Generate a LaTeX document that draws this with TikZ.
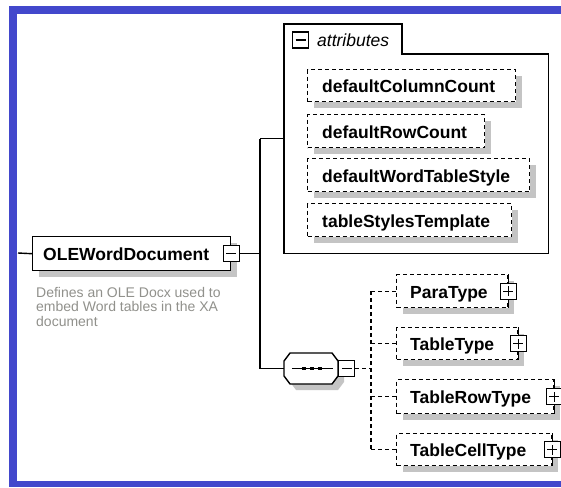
\documentclass[tikz,border=0pt]{standalone}
\usepackage{fontspec}
\setmainfont{Liberation Sans}
\usetikzlibrary{shadows}
\definecolor{frameblue}{RGB}{66,72,204}
\definecolor{shadowgray}{RGB}{196,196,196}
\definecolor{descgray}{RGB}{145,145,140}
\tikzset{
  conn/.style={line width=1.4pt},
  dconn/.style={line width=1.4pt, dash pattern=on 4pt off 3pt},
  box/.style={draw, line width=1.4pt, fill=white, inner sep=0pt, anchor=north west},
  dbox/.style={box, dash pattern=on 4pt off 3pt},
  shad/.style={drop shadow={shadow xshift=6pt, shadow yshift=-6pt, fill=shadowgray, opacity=1}},
  lbl/.style={font=\fontsize{17.5}{20}\selectfont\bfseries, anchor=base west, inner sep=0pt},
  pm/.style={draw, fill=white, line width=1.2pt, minimum size=16pt, inner sep=0pt, solid},
  pmminus/.style={pm, path picture={\draw[line width=1.1pt] ([xshift=-5pt]path picture bounding box.center) -- ([xshift=5pt]path picture bounding box.center);}},
  pmplus/.style={pm, path picture={\draw[line width=1.1pt] ([xshift=-5pt]path picture bounding box.center) -- ([xshift=5pt]path picture bounding box.center) ([yshift=-5pt]path picture bounding box.center) -- ([yshift=5pt]path picture bounding box.center);}},
  seqdot/.style={fill=black, inner sep=0pt, minimum size=3.8pt},
}
\begin{document}
\begin{tikzpicture}[x=1pt,y=-1pt]
\useasboundingbox (0,0) rectangle (561,487);
% frame
\fill[frameblue] (9,6) rectangle (561,487);
\fill[white] (17,14) rectangle (561,481);

% attributes group
\node[inner sep=0pt, minimum width=264pt, minimum height=229pt, anchor=north west] (attrs) at (284,24) {};
\draw[line width=1.4pt] (attrs.north west) -- ([xshift=118pt]attrs.north west) -- ([xshift=118pt,yshift=-30pt]attrs.north west) -- ([yshift=-30pt]attrs.north east) -- (attrs.south east) -- (attrs.south west) -- cycle;
\node[pmminus] (attrsm) at (300.5,40) {};
\node[font=\fontsize{17.5}{20}\selectfont\itshape, anchor=base west, inner sep=0pt] (attrslbl) at (317,47) {attributes};

\node[dbox, shad, minimum width=208pt, minimum height=32pt] (dcc) at (307,69) {};
\node[lbl] at ([xshift=15pt,yshift=-7pt]dcc.west) {defaultColumnCount};
\node[dbox, shad, minimum width=177pt, minimum height=33pt] (drc) at (307,114) {};
\node[lbl] at ([xshift=15pt,yshift=-7pt]drc.west) {defaultRowCount};
\node[dbox, shad, minimum width=222pt, minimum height=33pt] (dwts) at (307,158) {};
\node[lbl] at ([xshift=15pt,yshift=-7pt]dwts.west) {defaultWordTableStyle};
\node[dbox, shad, minimum width=204pt, minimum height=33pt] (tst) at (307,203) {};
\node[lbl] at ([xshift=15pt,yshift=-7pt]tst.west) {tableStylesTemplate};

% root element
\node[box, shad, minimum width=198pt, minimum height=34pt] (ole) at (32,236) {};
\node[lbl] at ([xshift=11pt,yshift=-7pt]ole.west) {OLEWordDocument};
\node[pmminus] (olem) at (ole.east) {};
\node[font=\fontsize{14}{14.5}\selectfont, text=descgray, align=left, anchor=north west, inner sep=0pt] (desc) at (36,286.8) {Defines an OLE Docx used to\\embed Word tables in the XA\\document};

% sequence compositor
\node[inner sep=0pt, minimum width=54pt, minimum height=31pt] (seq) at (311,368.5) {};
\path[draw, fill=white, shad, line width=1.4pt] (290,353) -- (332,353) -- (338,361) -- (338,376) -- (332,384) -- (290,384) -- (284,376) -- (284,361) -- cycle;
\draw[line width=1.4pt] ([xshift=8pt]seq.west) -- ([xshift=-5pt]seq.east);
\node[seqdot] at (304,368.5) {};
\node[seqdot] at (312,368.5) {};
\node[seqdot] at (320,368.5) {};
\node[pmminus, anchor=west] (seqm) at (seq.east) {};

% child elements
\node[dbox, shad, minimum width=111pt, minimum height=33pt] (para) at (396,274) {};
\draw[line width=1.4pt] (para.north east) -- (para.south east);
\node[pmplus] (parap) at (para.east) {};
\node[lbl] at ([xshift=14pt,yshift=-7pt]para.west) {ParaType};

\node[dbox, shad, minimum width=121pt, minimum height=32pt] (ttype) at (396,327) {};
\draw[line width=1.4pt] (ttype.north east) -- (ttype.south east);
\node[pmplus] (ttypep) at (ttype.east) {};
\node[lbl] at ([xshift=14pt,yshift=-7pt]ttype.west) {TableType};

\node[dbox, shad, minimum width=157pt, minimum height=34pt] (trow) at (396,379) {};
\draw[line width=1.4pt] (trow.north east) -- (trow.south east);
\node[pmplus] (trowp) at (trow.east) {};
\node[lbl] at ([xshift=14pt,yshift=-7pt]trow.west) {TableRowType};

\node[dbox, shad, minimum width=155pt, minimum height=32pt] (tcell) at (396,433) {};
\draw[line width=1.4pt] (tcell.north east) -- (tcell.south east);
\node[pmplus] (tcellp) at (tcell.east) {};
\node[lbl] at ([xshift=14pt,yshift=-7pt]tcell.west) {TableCellType};

% connectors
\coordinate (in) at (18,253);
\coordinate (vx) at (260,0);
\coordinate (vd) at (371,0);
\draw[conn] (in) -- (ole.west);
\draw[conn] (olem.east) -- (olem.east -| vx);
\draw[conn] (attrs.west -| vx) -- (seq.west -| vx);
\draw[conn] (attrs.west -| vx) -- (attrs.west);
\draw[conn] (seq.west -| vx) -- (seq.west);
\draw[dconn] (seqm.east) -- (seqm.east -| vd);
\draw[dconn] (para.west -| vd) -- (tcell.west -| vd);
\draw[dconn] (para.west -| vd) -- (para.west);
\draw[dconn] (ttype.west -| vd) -- (ttype.west);
\draw[dconn] (trow.west -| vd) -- (trow.west);
\draw[dconn] (tcell.west -| vd) -- (tcell.west);
\end{tikzpicture}
\end{document}
